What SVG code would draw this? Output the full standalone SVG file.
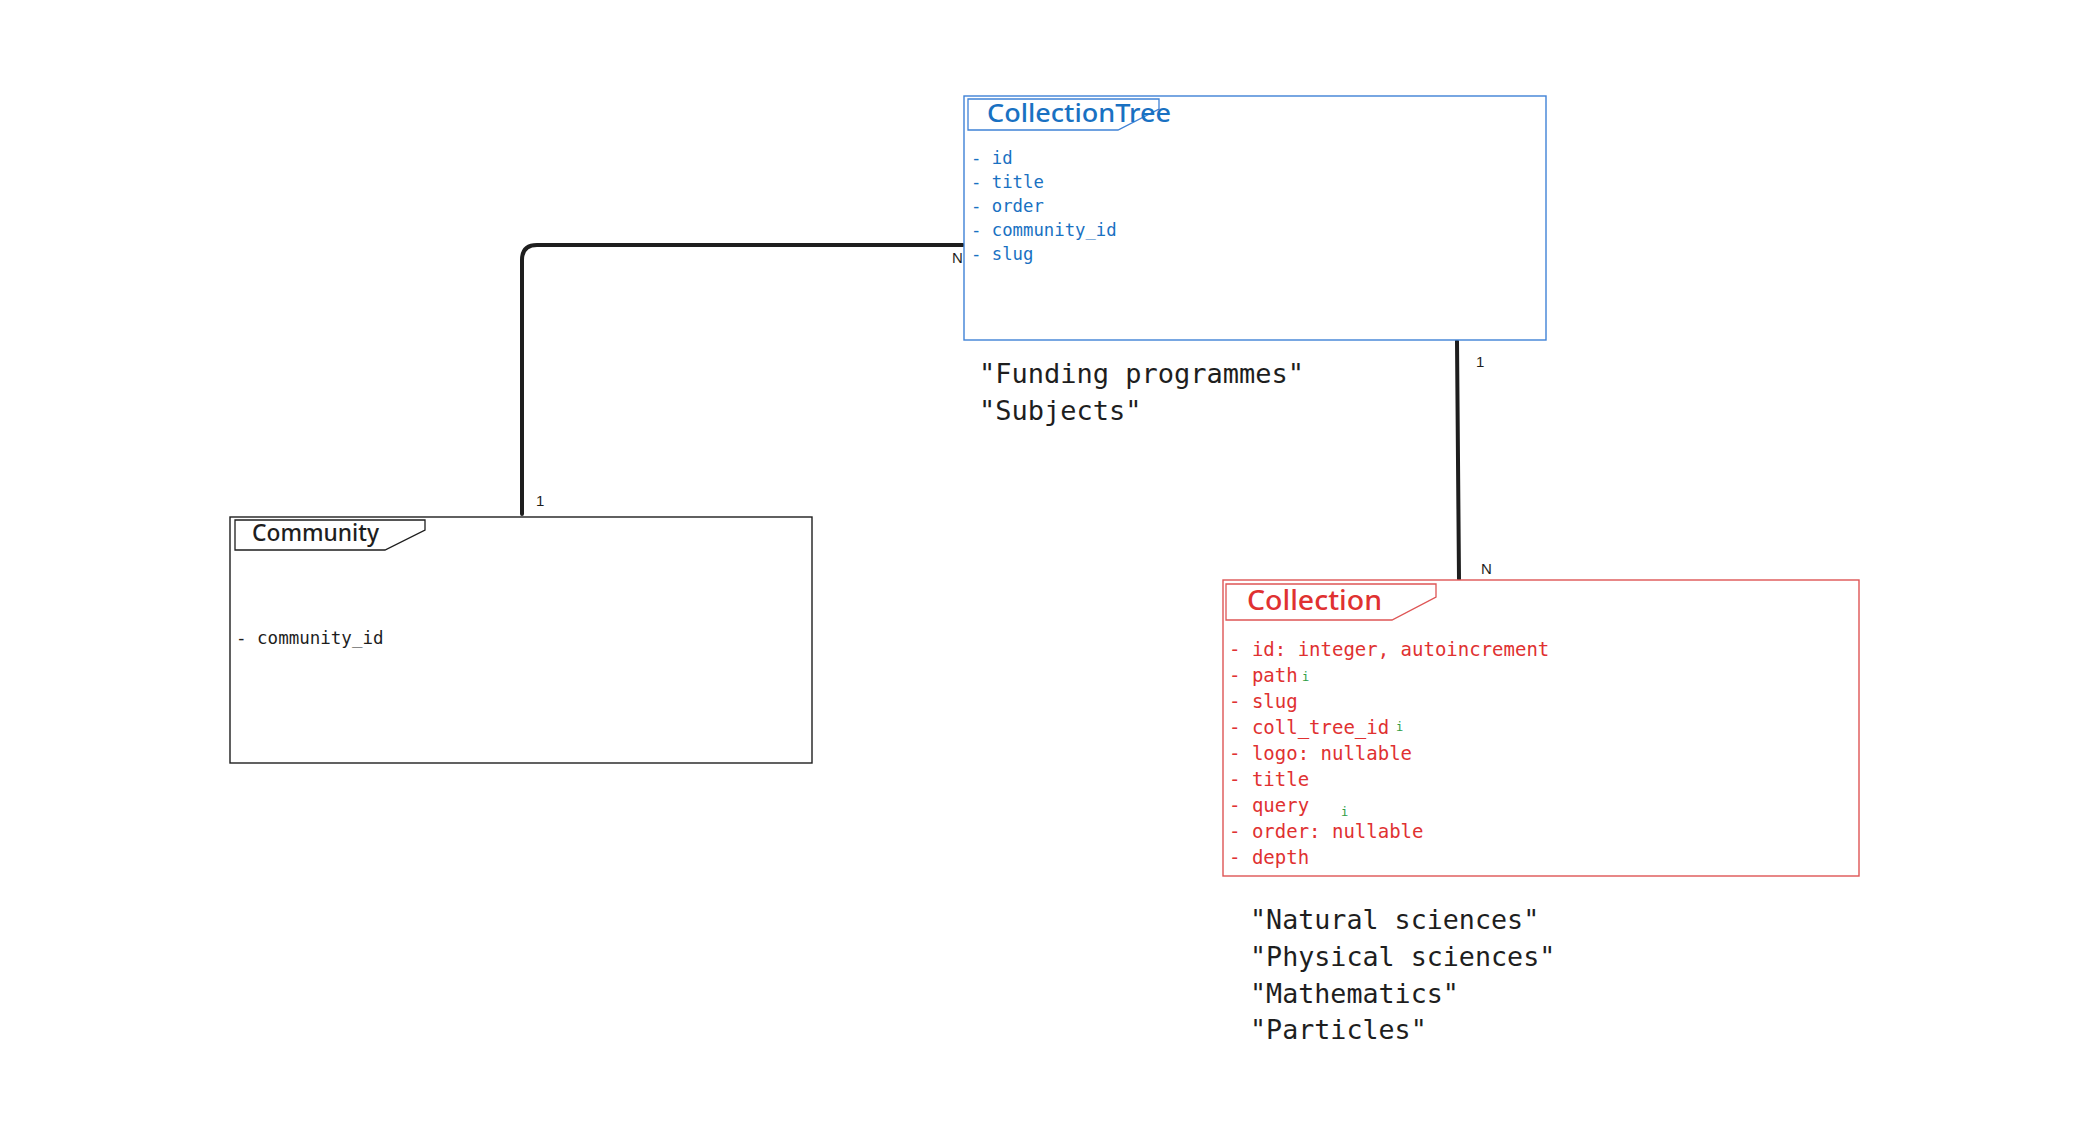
<svg xmlns="http://www.w3.org/2000/svg" width="2094" height="1122" viewBox="0 0 2094 1122">
<style>
.box{fill:#ffffff;stroke-width:1.4}
.tab{fill:#ffffff;stroke-width:1.3}
.title{font-family:"Noto Sans","Open Sans",sans-serif;font-weight:500}
.mono{font-family:"DejaVu Sans Mono","Liberation Mono",monospace}
.conn{fill:none;stroke:#1e1e1e;stroke-width:4;stroke-linecap:round;stroke-linejoin:round}
.lbl{font-family:"Liberation Sans","Noto Sans",sans-serif;font-size:15px;fill:#1e1e1e}
.blue{stroke:#3f82d6}
.red{stroke:#de5555}
.black{stroke:#1e1e1e}
.tb{fill:#1971c2}
.tr{fill:#e03131}
.tk{fill:#1e1e1e}
.gi{font-family:"DejaVu Sans Mono","Liberation Mono",monospace;font-size:12px;fill:#2f9e44}
</style>
<rect width="2094" height="1122" fill="#ffffff"/>
<g id="connectors">
<path class="conn" d="M522,514 L522,260 Q522,245 537,245 L963,245"/>
<path class="conn" d="M1457,341 L1459,579"/>
<text class="lbl" x="536" y="506">1</text>
<text class="lbl" x="952" y="263">N</text>
<text class="lbl" x="1476" y="367">1</text>
<text class="lbl" x="1481" y="574">N</text>
</g>
<g id="collectiontree">
<rect class="box blue" x="964" y="96" width="582" height="244"/>
<path class="tab blue" d="M968,99 L1159,99 L1159,109 L1118,130 L968,130 Z"/>
<text class="title tb" x="987" y="122" font-size="26" textLength="184" lengthAdjust="spacingAndGlyphs">CollectionTree</text>
<g class="mono tb" font-size="17.3">
<text x="971" y="164">- id</text>
<text x="971" y="188">- title</text>
<text x="971" y="212">- order</text>
<text x="971" y="236">- community_id</text>
<text x="971" y="260">- slug</text>
</g>
</g>
<g id="community">
<rect class="box black" x="230" y="517" width="582" height="246"/>
<path class="tab black" d="M235,520 L425,520 L425,530 L385,550 L235,550 Z"/>
<text class="title tk" x="252" y="541" font-size="23" textLength="127" lengthAdjust="spacingAndGlyphs">Community</text>
<text class="mono tk" x="236" y="644" font-size="17.5">- community_id</text>
</g>
<g id="collection">
<rect class="box red" x="1223" y="580" width="636" height="296"/>
<path class="tab red" d="M1226,584 L1436,584 L1436,597 L1392,620 L1226,620 Z"/>
<text class="title tr" x="1247" y="610" font-size="27" textLength="135" lengthAdjust="spacingAndGlyphs">Collection</text>
<g class="mono tr" font-size="19">
<text x="1229" y="656">- id: integer, autoincrement</text>
<text x="1229" y="682">- path</text>
<text x="1229" y="708">- slug</text>
<text x="1229" y="734">- coll_tree_id</text>
<text x="1229" y="760">- logo: nullable</text>
<text x="1229" y="786">- title</text>
<text x="1229" y="812">- query</text>
<text x="1229" y="838">- order: nullable</text>
<text x="1229" y="864">- depth</text>
</g>
<text class="gi" x="1302" y="681">i</text>
<text class="gi" x="1396" y="731">i</text>
<text class="gi" x="1341" y="816">i</text>
</g>
<g id="note-trees" class="mono tk" font-size="27">
<text x="979" y="383">"Funding programmes"</text>
<text x="979" y="420">"Subjects"</text>
</g>
<g id="note-collections" class="mono tk" font-size="26.7">
<text x="1250" y="929">"Natural sciences"</text>
<text x="1250" y="966">"Physical sciences"</text>
<text x="1250" y="1003">"Mathematics"</text>
<text x="1250" y="1039">"Particles"</text>
</g>
</svg>
